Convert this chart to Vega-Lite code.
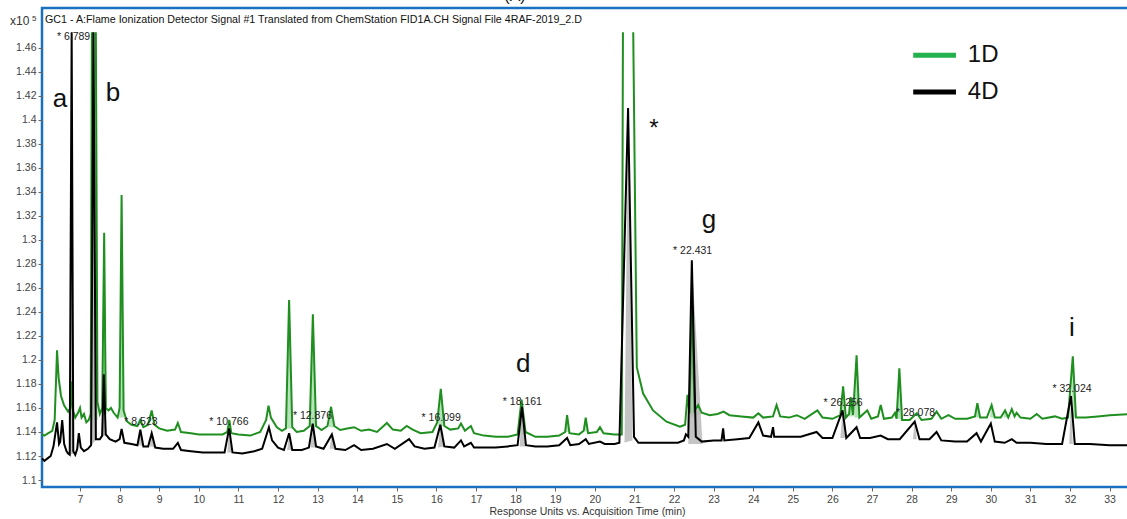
{
  "$schema": "https://vega.github.io/schema/vega-lite/v6.json",
  "width": 1090,
  "height": 479,
  "autosize": {"type": "none"},
  "padding": {"left": 42, "top": 8, "right": -5, "bottom": 32},
  "background": "white",
  "config": {
    "font": "Liberation Sans",
    "view": {"stroke": "#1a70c0", "strokeWidth": 2.5}
  },
  "datasets": {
    "sig": [
      {"s":"1D","t":6.04,"v":1.138},{"s":"1D","t":6.10,"v":1.137},{"s":"1D","t":6.20,"v":1.139},{"s":"1D","t":6.30,"v":1.141},{"s":"1D","t":6.36,"v":1.150},{"s":"1D","t":6.42,"v":1.208},{"s":"1D","t":6.46,"v":1.185},{"s":"1D","t":6.52,"v":1.170},{"s":"1D","t":6.60,"v":1.162},{"s":"1D","t":6.70,"v":1.157},{"s":"1D","t":6.76,"v":1.160},{"s":"1D","t":6.79,"v":1.182},{"s":"1D","t":6.82,"v":1.158},{"s":"1D","t":6.88,"v":1.152},{"s":"1D","t":6.95,"v":1.156},{"s":"1D","t":7.00,"v":1.160},{"s":"1D","t":7.04,"v":1.152},{"s":"1D","t":7.10,"v":1.155},{"s":"1D","t":7.16,"v":1.148},{"s":"1D","t":7.22,"v":1.150},{"s":"1D","t":7.27,"v":1.155},{"s":"1D","t":7.30,"v":1.473},{"s":"1D","t":7.35,"v":null},{"s":"1D","t":7.40,"v":1.473},{"s":"1D","t":7.44,"v":1.165},{"s":"1D","t":7.50,"v":1.155},{"s":"1D","t":7.56,"v":1.160},{"s":"1D","t":7.61,"v":1.306},{"s":"1D","t":7.65,"v":1.160},{"s":"1D","t":7.72,"v":1.158},{"s":"1D","t":7.78,"v":1.160},{"s":"1D","t":7.85,"v":1.156},{"s":"1D","t":7.95,"v":1.152},{"s":"1D","t":8.00,"v":1.160},{"s":"1D","t":8.05,"v":1.3375},{"s":"1D","t":8.10,"v":1.158},{"s":"1D","t":8.18,"v":1.149},{"s":"1D","t":8.30,"v":1.146},{"s":"1D","t":8.45,"v":1.145},{"s":"1D","t":8.52,"v":1.150},{"s":"1D","t":8.60,"v":1.144},{"s":"1D","t":8.72,"v":1.146},{"s":"1D","t":8.81,"v":1.158},{"s":"1D","t":8.88,"v":1.146},{"s":"1D","t":9.00,"v":1.143},{"s":"1D","t":9.20,"v":1.141},{"s":"1D","t":9.40,"v":1.142},{"s":"1D","t":9.47,"v":1.1475},{"s":"1D","t":9.55,"v":1.140},{"s":"1D","t":9.80,"v":1.139},{"s":"1D","t":10.00,"v":1.138},{"s":"1D","t":10.30,"v":1.138},{"s":"1D","t":10.60,"v":1.138},{"s":"1D","t":10.72,"v":1.140},{"s":"1D","t":10.77,"v":1.150},{"s":"1D","t":10.82,"v":1.139},{"s":"1D","t":11.00,"v":1.138},{"s":"1D","t":11.30,"v":1.137},{"s":"1D","t":11.55,"v":1.140},{"s":"1D","t":11.70,"v":1.150},{"s":"1D","t":11.76,"v":1.162},{"s":"1D","t":11.82,"v":1.152},{"s":"1D","t":11.97,"v":1.144},{"s":"1D","t":12.10,"v":1.141},{"s":"1D","t":12.20,"v":1.143},{"s":"1D","t":12.28,"v":1.250},{"s":"1D","t":12.36,"v":1.144},{"s":"1D","t":12.47,"v":1.140},{"s":"1D","t":12.65,"v":1.141},{"s":"1D","t":12.80,"v":1.145},{"s":"1D","t":12.88,"v":1.238},{"s":"1D","t":12.96,"v":1.145},{"s":"1D","t":13.10,"v":1.1417},{"s":"1D","t":13.25,"v":1.145},{"s":"1D","t":13.34,"v":1.161},{"s":"1D","t":13.42,"v":1.145},{"s":"1D","t":13.57,"v":1.1417},{"s":"1D","t":13.75,"v":1.143},{"s":"1D","t":13.92,"v":1.144},{"s":"1D","t":14.10,"v":1.141},{"s":"1D","t":14.30,"v":1.142},{"s":"1D","t":14.50,"v":1.140},{"s":"1D","t":14.75,"v":1.1475},{"s":"1D","t":14.90,"v":1.142},{"s":"1D","t":15.10,"v":1.141},{"s":"1D","t":15.25,"v":1.145},{"s":"1D","t":15.40,"v":1.142},{"s":"1D","t":15.60,"v":1.139},{"s":"1D","t":15.90,"v":1.140},{"s":"1D","t":16.02,"v":1.148},{"s":"1D","t":16.11,"v":1.176},{"s":"1D","t":16.20,"v":1.145},{"s":"1D","t":16.35,"v":1.142},{"s":"1D","t":16.55,"v":1.143},{"s":"1D","t":16.62,"v":1.147},{"s":"1D","t":16.72,"v":1.141},{"s":"1D","t":16.87,"v":1.145},{"s":"1D","t":16.95,"v":1.139},{"s":"1D","t":17.20,"v":1.137},{"s":"1D","t":17.50,"v":1.136},{"s":"1D","t":17.80,"v":1.136},{"s":"1D","t":18.05,"v":1.138},{"s":"1D","t":18.15,"v":1.167},{"s":"1D","t":18.25,"v":1.140},{"s":"1D","t":18.50,"v":1.136},{"s":"1D","t":18.80,"v":1.136},{"s":"1D","t":19.10,"v":1.137},{"s":"1D","t":19.25,"v":1.140},{"s":"1D","t":19.30,"v":1.154},{"s":"1D","t":19.36,"v":1.139},{"s":"1D","t":19.60,"v":1.138},{"s":"1D","t":19.72,"v":1.141},{"s":"1D","t":19.77,"v":1.152},{"s":"1D","t":19.83,"v":1.139},{"s":"1D","t":20.05,"v":1.140},{"s":"1D","t":20.13,"v":1.144},{"s":"1D","t":20.22,"v":1.139},{"s":"1D","t":20.50,"v":1.138},{"s":"1D","t":20.68,"v":1.138},{"s":"1D","t":20.71,"v":1.473},{"s":"1D","t":20.84,"v":null},{"s":"1D","t":20.97,"v":1.473},{"s":"1D","t":21.06,"v":1.194},{"s":"1D","t":21.22,"v":1.172},{"s":"1D","t":21.47,"v":1.158},{"s":"1D","t":21.81,"v":1.1486},{"s":"1D","t":22.15,"v":1.1444},{"s":"1D","t":22.28,"v":1.146},{"s":"1D","t":22.34,"v":1.171},{"s":"1D","t":22.39,"v":1.1556},{"s":"1D","t":22.45,"v":1.250},{"s":"1D","t":22.52,"v":1.158},{"s":"1D","t":22.61,"v":1.1625},{"s":"1D","t":22.70,"v":1.156},{"s":"1D","t":22.90,"v":1.154},{"s":"1D","t":23.10,"v":1.155},{"s":"1D","t":23.25,"v":1.157},{"s":"1D","t":23.40,"v":1.154},{"s":"1D","t":23.70,"v":1.153},{"s":"1D","t":24.00,"v":1.152},{"s":"1D","t":24.13,"v":1.1556},{"s":"1D","t":24.25,"v":1.152},{"s":"1D","t":24.50,"v":1.153},{"s":"1D","t":24.59,"v":1.1625},{"s":"1D","t":24.68,"v":1.153},{"s":"1D","t":24.90,"v":1.152},{"s":"1D","t":25.10,"v":1.154},{"s":"1D","t":25.30,"v":1.151},{"s":"1D","t":25.62,"v":1.158},{"s":"1D","t":25.75,"v":1.152},{"s":"1D","t":26.00,"v":1.151},{"s":"1D","t":26.20,"v":1.154},{"s":"1D","t":26.27,"v":1.178},{"s":"1D","t":26.34,"v":1.152},{"s":"1D","t":26.42,"v":1.155},{"s":"1D","t":26.46,"v":1.169},{"s":"1D","t":26.52,"v":1.154},{"s":"1D","t":26.61,"v":1.204},{"s":"1D","t":26.68,"v":1.152},{"s":"1D","t":26.88,"v":1.158},{"s":"1D","t":26.98,"v":1.151},{"s":"1D","t":27.15,"v":1.153},{"s":"1D","t":27.22,"v":1.1625},{"s":"1D","t":27.30,"v":1.151},{"s":"1D","t":27.50,"v":1.152},{"s":"1D","t":27.58,"v":1.156},{"s":"1D","t":27.62,"v":1.151},{"s":"1D","t":27.69,"v":1.193},{"s":"1D","t":27.76,"v":1.150},{"s":"1D","t":27.95,"v":1.150},{"s":"1D","t":28.13,"v":1.1556},{"s":"1D","t":28.25,"v":1.150},{"s":"1D","t":28.50,"v":1.151},{"s":"1D","t":28.63,"v":1.157},{"s":"1D","t":28.75,"v":1.151},{"s":"1D","t":28.93,"v":1.154},{"s":"1D","t":29.10,"v":1.151},{"s":"1D","t":29.40,"v":1.151},{"s":"1D","t":29.60,"v":1.153},{"s":"1D","t":29.66,"v":1.164},{"s":"1D","t":29.73,"v":1.152},{"s":"1D","t":29.90,"v":1.152},{"s":"1D","t":30.02,"v":1.1625},{"s":"1D","t":30.10,"v":1.152},{"s":"1D","t":30.25,"v":1.152},{"s":"1D","t":30.36,"v":1.158},{"s":"1D","t":30.44,"v":1.152},{"s":"1D","t":30.53,"v":1.159},{"s":"1D","t":30.60,"v":1.153},{"s":"1D","t":30.65,"v":1.156},{"s":"1D","t":30.75,"v":1.152},{"s":"1D","t":31.00,"v":1.151},{"s":"1D","t":31.16,"v":1.155},{"s":"1D","t":31.30,"v":1.151},{"s":"1D","t":31.62,"v":1.153},{"s":"1D","t":31.80,"v":1.151},{"s":"1D","t":31.95,"v":1.152},{"s":"1D","t":32.07,"v":1.203},{"s":"1D","t":32.15,"v":1.152},{"s":"1D","t":32.40,"v":1.152},{"s":"1D","t":32.70,"v":1.153},{"s":"1D","t":33.00,"v":1.154},{"s":"1D","t":33.56,"v":1.155},
      {"s":"4D","t":6.04,"v":1.118},{"s":"4D","t":6.10,"v":1.116},{"s":"4D","t":6.18,"v":1.118},{"s":"4D","t":6.26,"v":1.120},{"s":"4D","t":6.33,"v":1.128},{"s":"4D","t":6.42,"v":1.148},{"s":"4D","t":6.47,"v":1.130},{"s":"4D","t":6.50,"v":1.132},{"s":"4D","t":6.55,"v":1.150},{"s":"4D","t":6.60,"v":1.130},{"s":"4D","t":6.66,"v":1.124},{"s":"4D","t":6.70,"v":1.122},{"s":"4D","t":6.74,"v":1.121},{"s":"4D","t":6.789,"v":1.473},{"s":"4D","t":6.83,"v":1.124},{"s":"4D","t":6.88,"v":1.121},{"s":"4D","t":6.93,"v":1.126},{"s":"4D","t":6.97,"v":1.139},{"s":"4D","t":7.02,"v":1.127},{"s":"4D","t":7.10,"v":1.124},{"s":"4D","t":7.20,"v":1.126},{"s":"4D","t":7.28,"v":1.129},{"s":"4D","t":7.34,"v":1.473},{"s":"4D","t":7.40,"v":1.134},{"s":"4D","t":7.50,"v":1.134},{"s":"4D","t":7.56,"v":1.137},{"s":"4D","t":7.60,"v":1.188},{"s":"4D","t":7.65,"v":1.138},{"s":"4D","t":7.75,"v":1.134},{"s":"4D","t":7.90,"v":1.132},{"s":"4D","t":8.00,"v":1.134},{"s":"4D","t":8.05,"v":1.1425},{"s":"4D","t":8.12,"v":1.131},{"s":"4D","t":8.30,"v":1.130},{"s":"4D","t":8.45,"v":1.129},{"s":"4D","t":8.523,"v":1.142},{"s":"4D","t":8.60,"v":1.128},{"s":"4D","t":8.72,"v":1.128},{"s":"4D","t":8.81,"v":1.139},{"s":"4D","t":8.90,"v":1.127},{"s":"4D","t":9.10,"v":1.126},{"s":"4D","t":9.35,"v":1.126},{"s":"4D","t":9.47,"v":1.131},{"s":"4D","t":9.55,"v":1.125},{"s":"4D","t":9.80,"v":1.124},{"s":"4D","t":10.10,"v":1.123},{"s":"4D","t":10.40,"v":1.123},{"s":"4D","t":10.65,"v":1.123},{"s":"4D","t":10.766,"v":1.143},{"s":"4D","t":10.85,"v":1.123},{"s":"4D","t":11.10,"v":1.122},{"s":"4D","t":11.40,"v":1.124},{"s":"4D","t":11.60,"v":1.126},{"s":"4D","t":11.77,"v":1.144},{"s":"4D","t":11.85,"v":1.133},{"s":"4D","t":12.00,"v":1.127},{"s":"4D","t":12.15,"v":1.125},{"s":"4D","t":12.28,"v":1.139},{"s":"4D","t":12.36,"v":1.125},{"s":"4D","t":12.60,"v":1.125},{"s":"4D","t":12.78,"v":1.127},{"s":"4D","t":12.876,"v":1.147},{"s":"4D","t":12.96,"v":1.128},{"s":"4D","t":13.15,"v":1.126},{"s":"4D","t":13.36,"v":1.138},{"s":"4D","t":13.45,"v":1.126},{"s":"4D","t":13.70,"v":1.125},{"s":"4D","t":13.92,"v":1.129},{"s":"4D","t":14.10,"v":1.125},{"s":"4D","t":14.40,"v":1.126},{"s":"4D","t":14.75,"v":1.130},{"s":"4D","t":14.95,"v":1.126},{"s":"4D","t":15.31,"v":1.134},{"s":"4D","t":15.45,"v":1.128},{"s":"4D","t":15.70,"v":1.126},{"s":"4D","t":15.95,"v":1.127},{"s":"4D","t":16.099,"v":1.146},{"s":"4D","t":16.20,"v":1.128},{"s":"4D","t":16.45,"v":1.127},{"s":"4D","t":16.62,"v":1.133},{"s":"4D","t":16.70,"v":1.128},{"s":"4D","t":16.87,"v":1.131},{"s":"4D","t":16.95,"v":1.127},{"s":"4D","t":17.20,"v":1.127},{"s":"4D","t":17.50,"v":1.127},{"s":"4D","t":17.80,"v":1.128},{"s":"4D","t":18.05,"v":1.129},{"s":"4D","t":18.161,"v":1.161},{"s":"4D","t":18.26,"v":1.129},{"s":"4D","t":18.50,"v":1.128},{"s":"4D","t":18.80,"v":1.128},{"s":"4D","t":19.10,"v":1.129},{"s":"4D","t":19.30,"v":1.135},{"s":"4D","t":19.38,"v":1.129},{"s":"4D","t":19.60,"v":1.130},{"s":"4D","t":19.77,"v":1.134},{"s":"4D","t":19.85,"v":1.130},{"s":"4D","t":20.13,"v":1.132},{"s":"4D","t":20.25,"v":1.130},{"s":"4D","t":20.50,"v":1.130},{"s":"4D","t":20.62,"v":1.131},{"s":"4D","t":20.84,"v":1.410},{"s":"4D","t":20.99,"v":1.136},{"s":"4D","t":21.10,"v":1.131},{"s":"4D","t":21.40,"v":1.131},{"s":"4D","t":21.80,"v":1.131},{"s":"4D","t":22.10,"v":1.131},{"s":"4D","t":22.25,"v":1.133},{"s":"4D","t":22.30,"v":1.138},{"s":"4D","t":22.36,"v":1.136},{"s":"4D","t":22.45,"v":1.283},{"s":"4D","t":22.55,"v":1.136},{"s":"4D","t":22.70,"v":1.132},{"s":"4D","t":23.00,"v":1.133},{"s":"4D","t":23.20,"v":1.133},{"s":"4D","t":23.24,"v":1.143},{"s":"4D","t":23.27,"v":1.133},{"s":"4D","t":23.60,"v":1.134},{"s":"4D","t":23.90,"v":1.135},{"s":"4D","t":24.13,"v":1.148},{"s":"4D","t":24.25,"v":1.137},{"s":"4D","t":24.45,"v":1.136},{"s":"4D","t":24.50,"v":1.144},{"s":"4D","t":24.53,"v":1.136},{"s":"4D","t":24.80,"v":1.136},{"s":"4D","t":25.20,"v":1.136},{"s":"4D","t":25.60,"v":1.140},{"s":"4D","t":25.75,"v":1.135},{"s":"4D","t":26.00,"v":1.135},{"s":"4D","t":26.256,"v":1.158},{"s":"4D","t":26.35,"v":1.135},{"s":"4D","t":26.61,"v":1.144},{"s":"4D","t":26.70,"v":1.135},{"s":"4D","t":26.95,"v":1.135},{"s":"4D","t":27.22,"v":1.137},{"s":"4D","t":27.40,"v":1.134},{"s":"4D","t":27.70,"v":1.134},{"s":"4D","t":28.078,"v":1.1486},{"s":"4D","t":28.20,"v":1.134},{"s":"4D","t":28.45,"v":1.134},{"s":"4D","t":28.63,"v":1.140},{"s":"4D","t":28.75,"v":1.133},{"s":"4D","t":29.10,"v":1.132},{"s":"4D","t":29.40,"v":1.132},{"s":"4D","t":29.64,"v":1.139},{"s":"4D","t":29.75,"v":1.132},{"s":"4D","t":30.00,"v":1.147},{"s":"4D","t":30.10,"v":1.132},{"s":"4D","t":30.35,"v":1.131},{"s":"4D","t":30.53,"v":1.134},{"s":"4D","t":30.65,"v":1.131},{"s":"4D","t":31.00,"v":1.131},{"s":"4D","t":31.40,"v":1.130},{"s":"4D","t":31.80,"v":1.130},{"s":"4D","t":32.024,"v":1.170},{"s":"4D","t":32.12,"v":1.130},{"s":"4D","t":32.50,"v":1.130},{"s":"4D","t":33.00,"v":1.129},{"s":"4D","t":33.56,"v":1.129}
    ],
    "fill1": [
      {"pk":"b","t":7.27,"v":1.150,"b":1.150},{"pk":"b","t":7.30,"v":1.473,"b":1.150},{"pk":"b","t":7.40,"v":1.473,"b":1.150},{"pk":"b","t":7.45,"v":1.150,"b":1.150},
      {"pk":"g761","t":7.56,"v":1.155,"b":1.155},{"pk":"g761","t":7.61,"v":1.306,"b":1.155},{"pk":"g761","t":7.68,"v":1.155,"b":1.155},
      {"pk":"g805","t":7.99,"v":1.152,"b":1.152},{"pk":"g805","t":8.05,"v":1.3375,"b":1.152},{"pk":"g805","t":8.12,"v":1.152,"b":1.152},
      {"pk":"g1228","t":12.22,"v":1.143,"b":1.143},{"pk":"g1228","t":12.28,"v":1.250,"b":1.143},{"pk":"g1228","t":12.36,"v":1.143,"b":1.143},
      {"pk":"g1288","t":12.82,"v":1.144,"b":1.144},{"pk":"g1288","t":12.88,"v":1.238,"b":1.144},{"pk":"g1288","t":12.97,"v":1.144,"b":1.144},
      {"pk":"g1334","t":13.28,"v":1.144,"b":1.144},{"pk":"g1334","t":13.34,"v":1.161,"b":1.144},{"pk":"g1334","t":13.42,"v":1.144,"b":1.144},
      {"pk":"g1611","t":16.04,"v":1.145,"b":1.145},{"pk":"g1611","t":16.11,"v":1.176,"b":1.145},{"pk":"g1611","t":16.20,"v":1.145,"b":1.145},
      {"pk":"g1815","t":18.08,"v":1.138,"b":1.138},{"pk":"g1815","t":18.15,"v":1.167,"b":1.138},{"pk":"g1815","t":18.24,"v":1.138,"b":1.138},
      {"pk":"g1930","t":19.26,"v":1.140,"b":1.140},{"pk":"g1930","t":19.30,"v":1.154,"b":1.140},{"pk":"g1930","t":19.36,"v":1.139,"b":1.139},
      {"pk":"g1977","t":19.73,"v":1.141,"b":1.141},{"pk":"g1977","t":19.77,"v":1.152,"b":1.141},{"pk":"g1977","t":19.83,"v":1.139,"b":1.139},
      {"pk":"g2245","t":22.40,"v":1.152,"b":1.152},{"pk":"g2245","t":22.45,"v":1.250,"b":1.152},{"pk":"g2245","t":22.52,"v":1.154,"b":1.154},
      {"pk":"g2261","t":22.56,"v":1.154,"b":1.154},{"pk":"g2261","t":22.61,"v":1.1625,"b":1.154},{"pk":"g2261","t":22.68,"v":1.155,"b":1.155},
      {"pk":"g2627","t":26.22,"v":1.152,"b":1.152},{"pk":"g2627","t":26.27,"v":1.178,"b":1.152},{"pk":"g2627","t":26.33,"v":1.152,"b":1.152},
      {"pk":"g2646","t":26.42,"v":1.153,"b":1.153},{"pk":"g2646","t":26.46,"v":1.169,"b":1.153},{"pk":"g2646","t":26.51,"v":1.153,"b":1.153},
      {"pk":"g2661","t":26.55,"v":1.152,"b":1.152},{"pk":"g2661","t":26.61,"v":1.204,"b":1.152},{"pk":"g2661","t":26.68,"v":1.152,"b":1.152},
      {"pk":"g2769","t":27.63,"v":1.151,"b":1.151},{"pk":"g2769","t":27.69,"v":1.193,"b":1.151},{"pk":"g2769","t":27.76,"v":1.150,"b":1.150},
      {"pk":"g2966","t":29.62,"v":1.152,"b":1.152},{"pk":"g2966","t":29.66,"v":1.164,"b":1.152},{"pk":"g2966","t":29.72,"v":1.152,"b":1.152},
      {"pk":"g3002","t":29.98,"v":1.152,"b":1.152},{"pk":"g3002","t":30.02,"v":1.1625,"b":1.152},{"pk":"g3002","t":30.08,"v":1.152,"b":1.152},
      {"pk":"g3036","t":30.32,"v":1.152,"b":1.152},{"pk":"g3036","t":30.36,"v":1.158,"b":1.152},{"pk":"g3036","t":30.42,"v":1.152,"b":1.152},
      {"pk":"g3207","t":32.02,"v":1.152,"b":1.152},{"pk":"g3207","t":32.07,"v":1.203,"b":1.152},{"pk":"g3207","t":32.13,"v":1.152,"b":1.152}
    ],
    "fill4": [
      {"pk":"a","t":6.74,"v":1.121,"b":1.121},{"pk":"a","t":6.789,"v":1.473,"b":1.1215},{"pk":"a","t":6.84,"v":1.122,"b":1.122},
      {"pk":"k734","t":7.28,"v":1.129,"b":1.129},{"pk":"k734","t":7.34,"v":1.473,"b":1.131},{"pk":"k734","t":7.42,"v":1.134,"b":1.134},
      {"pk":"k760","t":7.54,"v":1.136,"b":1.136},{"pk":"k760","t":7.60,"v":1.188,"b":1.1365},{"pk":"k760","t":7.66,"v":1.137,"b":1.137},
      {"pk":"k852","t":8.47,"v":1.129,"b":1.129},{"pk":"k852","t":8.523,"v":1.142,"b":1.129},{"pk":"k852","t":8.60,"v":1.128,"b":1.128},
      {"pk":"k881","t":8.76,"v":1.128,"b":1.128},{"pk":"k881","t":8.81,"v":1.139,"b":1.128},{"pk":"k881","t":8.87,"v":1.127,"b":1.127},
      {"pk":"k1077","t":10.72,"v":1.123,"b":1.123},{"pk":"k1077","t":10.766,"v":1.143,"b":1.123},{"pk":"k1077","t":10.82,"v":1.123,"b":1.123},
      {"pk":"k1228","t":12.23,"v":1.125,"b":1.125},{"pk":"k1228","t":12.28,"v":1.139,"b":1.125},{"pk":"k1228","t":12.34,"v":1.125,"b":1.125},
      {"pk":"k1288","t":12.82,"v":1.127,"b":1.127},{"pk":"k1288","t":12.876,"v":1.147,"b":1.127},{"pk":"k1288","t":12.98,"v":1.127,"b":1.127},
      {"pk":"k1336","t":13.30,"v":1.126,"b":1.126},{"pk":"k1336","t":13.36,"v":1.138,"b":1.126},{"pk":"k1336","t":13.46,"v":1.126,"b":1.126},
      {"pk":"k1610","t":16.04,"v":1.127,"b":1.127},{"pk":"k1610","t":16.099,"v":1.146,"b":1.1275},{"pk":"k1610","t":16.20,"v":1.128,"b":1.128},
      {"pk":"k1816","t":18.10,"v":1.128,"b":1.128},{"pk":"k1816","t":18.161,"v":1.161,"b":1.128},{"pk":"k1816","t":18.24,"v":1.128,"b":1.128},
      {"pk":"k2084","t":20.75,"v":1.131,"b":1.131},{"pk":"k2084","t":20.84,"v":1.410,"b":1.132},{"pk":"k2084","t":20.95,"v":1.133,"b":1.133},
      {"pk":"k2245","t":22.36,"v":1.130,"b":1.130},{"pk":"k2245","t":22.45,"v":1.283,"b":1.130},{"pk":"k2245","t":22.72,"v":1.130,"b":1.130},
      {"pk":"k2626","t":26.20,"v":1.135,"b":1.135},{"pk":"k2626","t":26.256,"v":1.158,"b":1.135},{"pk":"k2626","t":26.32,"v":1.135,"b":1.135},
      {"pk":"k2808","t":28.03,"v":1.134,"b":1.134},{"pk":"k2808","t":28.078,"v":1.1486,"b":1.134},{"pk":"k2808","t":28.13,"v":1.134,"b":1.134},
      {"pk":"k3202","t":31.98,"v":1.130,"b":1.130},{"pk":"k3202","t":32.024,"v":1.170,"b":1.130},{"pk":"k3202","t":32.07,"v":1.130,"b":1.130}
    ],
    "big": [
      {"txt":"a","t":6.495,"v":1.4108},
      {"txt":"b","t":7.833,"v":1.4158},
      {"txt":"d","t":18.195,"v":1.1903},
      {"txt":"g","t":22.884,"v":1.3096},
      {"txt":"i","t":32.05,"v":1.22}
    ],
    "star": [{"txt":"*","t":21.495,"v":1.3867}],
    "peaks": [
      {"txt":"* 6.789","t":6.836,"v":1.469},
      {"txt":"* 8.523","t":8.54,"v":1.1483},
      {"txt":"* 10.766","t":10.76,"v":1.1483},
      {"txt":"* 12.876","t":12.87,"v":1.1533},
      {"txt":"* 16.099","t":16.12,"v":1.1517},
      {"txt":"* 18.161","t":18.17,"v":1.165},
      {"txt":"* 22.431","t":22.47,"v":1.2908},
      {"txt":"* 26.256","t":26.27,"v":1.1642},
      {"txt":"* 28.078","t":28.10,"v":1.1558},
      {"txt":"* 32.024","t":32.05,"v":1.1758}
    ],
    "head": [{"txt":"GC1 - A:Flame Ionization Detector Signal #1 Translated from ChemStation FID1A.CH Signal File 4RAF-2019_2.D","t":6.116,"v":1.4833}],
    "scale10": [{"txt":"x10","t":5.232,"v":1.4792}],
    "scale5": [{"txt":"5","t":5.788,"v":1.4825}],
    "panel": [{"txt":"(A)","t":17.985,"v":1.4992}],
    "leg": [
      {"s":"1D","t":28.04,"t2":29.12,"v":1.454},
      {"s":"4D","t":28.04,"t2":29.12,"v":1.4233}
    ],
    "legtxt": [
      {"txt":"1D","t":29.42,"v":1.454},
      {"txt":"4D","t":29.42,"v":1.4233}
    ]
  },
  "encoding": {
    "x": {
      "field": "t", "type": "quantitative",
      "scale": {"domain": [6.04, 33.565], "nice": false, "zero": false},
      "axis": {
        "values": [7,8,9,10,11,12,13,14,15,16,17,18,19,20,21,22,23,24,25,26,27,28,29,30,31,32,33],
        "format": "d", "grid": false, "domain": false,
        "tickColor": "#666", "tickSize": 4,
        "labelFontSize": 10.5, "labelColor": "#444", "labelPadding": 3,
        "title": "Response Units vs. Acquisition Time (min)",
        "titleFontSize": 10.5, "titleFontWeight": "normal", "titleColor": "#333", "titlePadding": 2
      }
    },
    "y": {
      "field": "v", "type": "quantitative",
      "scale": {"domain": [1.09417, 1.4933], "nice": false, "zero": false},
      "axis": {
        "values": [1.1,1.12,1.14,1.16,1.18,1.2,1.22,1.24,1.26,1.28,1.3,1.32,1.34,1.36,1.38,1.4,1.42,1.44,1.46],
        "format": "~g", "grid": false, "domain": false,
        "tickColor": "#666", "tickSize": 4,
        "labelFontSize": 10.5, "labelColor": "#444", "labelPadding": 2,
        "title": null
      }
    }
  },
  "layer": [
    {
      "data": {"name": "fill1"},
      "mark": {"type": "area", "color": "#9fd8a4", "opacity": 0.75},
      "encoding": {"y2": {"field": "b"}, "detail": {"field": "pk"}}
    },
    {
      "data": {"name": "fill4"},
      "mark": {"type": "area", "color": "#b5b5b5", "opacity": 0.8},
      "encoding": {"y2": {"field": "b"}, "detail": {"field": "pk"}}
    },
    {
      "data": {"name": "sig"},
      "mark": {"type": "line", "strokeWidth": 2, "invalid": "break-paths-show-domains"},
      "encoding": {
        "color": {"field": "s", "type": "nominal", "scale": {"domain": ["1D", "4D"], "range": ["#1f8f1f", "#000000"]}, "legend": null}
      }
    },
    {
      "data": {"name": "leg"},
      "mark": {"type": "rule", "strokeWidth": 5},
      "encoding": {
        "x2": {"field": "t2"},
        "stroke": {"field": "s", "type": "nominal", "scale": {"domain": ["1D", "4D"], "range": ["#22b14c", "#000000"]}, "legend": null}
      }
    },
    {
      "data": {"name": "legtxt"},
      "mark": {"type": "text", "fontSize": 24, "align": "left", "baseline": "middle", "color": "#111"},
      "encoding": {"text": {"field": "txt"}}
    },
    {
      "data": {"name": "big"},
      "mark": {"type": "text", "fontSize": 26, "align": "center", "baseline": "alphabetic", "color": "#111"},
      "encoding": {"text": {"field": "txt"}}
    },
    {
      "data": {"name": "star"},
      "mark": {"type": "text", "fontSize": 24, "align": "center", "baseline": "alphabetic", "color": "#111"},
      "encoding": {"text": {"field": "txt"}}
    },
    {
      "data": {"name": "peaks"},
      "mark": {"type": "text", "fontSize": 10.5, "align": "center", "baseline": "middle", "color": "#222"},
      "encoding": {"text": {"field": "txt"}}
    },
    {
      "data": {"name": "head"},
      "mark": {"type": "text", "fontSize": 10.7, "align": "left", "baseline": "middle", "color": "#111"},
      "encoding": {"text": {"field": "txt"}}
    },
    {
      "data": {"name": "scale10"},
      "mark": {"type": "text", "fontSize": 12, "align": "left", "baseline": "alphabetic", "color": "#333"},
      "encoding": {"text": {"field": "txt"}}
    },
    {
      "data": {"name": "scale5"},
      "mark": {"type": "text", "fontSize": 8, "align": "left", "baseline": "alphabetic", "color": "#333"},
      "encoding": {"text": {"field": "txt"}}
    },
    {
      "data": {"name": "panel"},
      "mark": {"type": "text", "fontSize": 16, "align": "center", "baseline": "alphabetic", "color": "#111"},
      "encoding": {"text": {"field": "txt"}}
    }
  ]
}
